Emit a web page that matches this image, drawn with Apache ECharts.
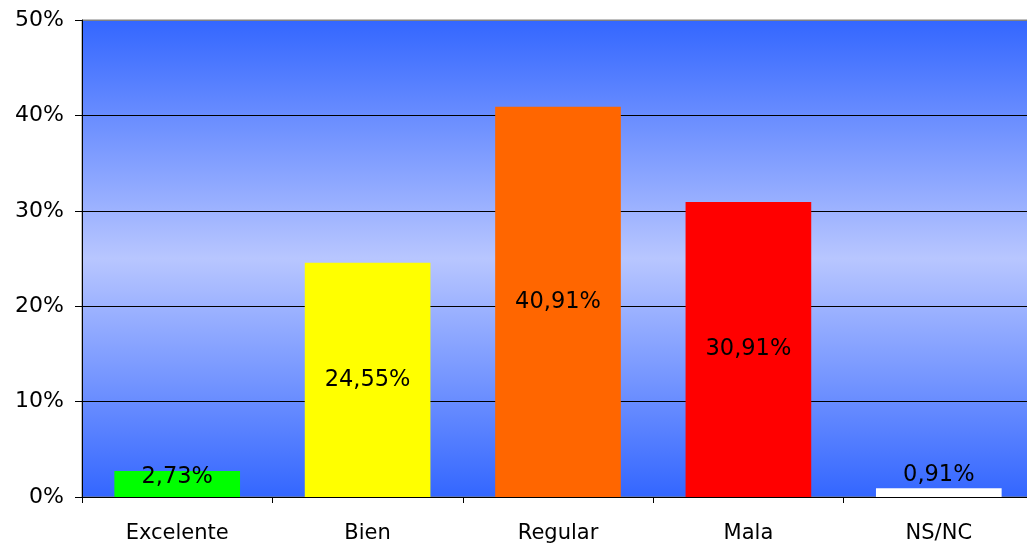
<!DOCTYPE html>
<html><head><meta charset="utf-8">
<script src="https://cdn.jsdelivr.net/npm/echarts@6/dist/echarts.min.js"></script>
<style>html,body{margin:0;padding:0;background:#fff;overflow:hidden}#c{width:1035px;height:552px}</style>
</head><body><div id="c"></div>
<script>
const categories = ['Excelente', 'Bien', 'Regular', 'Mala', 'NS/NC'];
const values = [2.73, 24.55, 40.91, 30.91, 0.91];
const barColors = ['#00ff00', '#ffff00', '#ff6600', '#ff0000', '#ffffff'];
const yTicks = [0, 10, 20, 30, 40, 50];

const fmt = v => v.toFixed(2).replace('.', ',') + '%';
const labelPos = [
  {position: 'insideBottom', distance: 8},
  {position: 'inside'},
  {position: 'inside'},
  {position: 'inside'},
  {position: 'top', distance: 2}
];

const chart = echarts.init(document.getElementById('c'));
chart.setOption({
  animation: false,
  grid: {
    left: 82, top: 20, right: 1, bottom: 55,
    outerBoundsMode: 'none',
    show: true,
    borderColor: '#808080', borderWidth: 1,
    backgroundColor: {
      type: 'linear', x: 0, y: 0, x2: 0, y2: 1,
      colorStops: [
        {offset: 0, color: '#3366ff'},
        {offset: 0.5, color: '#b8c6ff'},
        {offset: 1, color: '#3366ff'}
      ]
    }
  },
  xAxis: {
    type: 'category',
    data: categories,
    axisLine: {lineStyle: {color: '#000', width: 1}},
    axisTick: {show: true, length: 6, lineStyle: {color: '#000'}},
    axisLabel: {color: '#000', fontFamily: 'DejaVu Sans', fontSize: 21, margin: 26}
  },
  yAxis: {
    type: 'value',
    min: yTicks[0], max: yTicks[yTicks.length - 1], interval: 10,
    axisLine: {show: true, lineStyle: {color: '#000', width: 1}},
    axisTick: {show: true, length: 7, lineStyle: {color: '#000'}},
    splitLine: {show: true, lineStyle: {color: ['#000', '#000', '#000', '#000', '#000', '#808080'], width: 1}},
    axisLabel: {color: '#000', fontFamily: 'DejaVu Sans', fontSize: 22, margin: 18,
      formatter: v => v + '%'}
  },
  series: [{
    type: 'bar',
    barCategoryGap: '34%',
    data: values.map((v, i) => ({
      value: v,
      itemStyle: {color: barColors[i]},
      label: Object.assign({show: true, color: '#000', fontFamily: 'DejaVu Sans', fontSize: 22.5,
        formatter: p => fmt(p.value)}, labelPos[i])
    }))
  }]
});
</script></body></html>
